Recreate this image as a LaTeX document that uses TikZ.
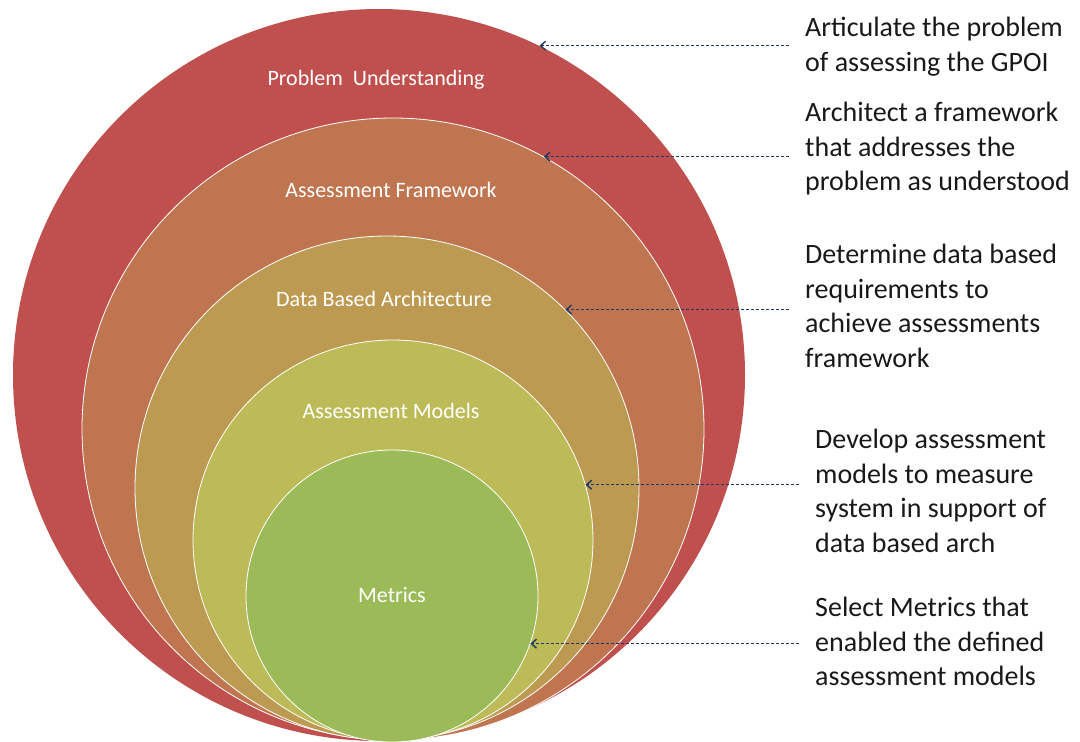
\documentclass[tikz,border=0pt]{standalone}
\usepackage{fontspec}
\setmainfont{Carlito}
\usetikzlibrary{positioning,arrows.meta}
\definecolor{ringred}{HTML}{C0504D}
\definecolor{ringorange}{HTML}{BF7650}
\definecolor{ringtan}{HTML}{BD9A52}
\definecolor{ringolive}{HTML}{BDBB58}
\definecolor{ringgreen}{HTML}{9BBB59}
\definecolor{arrownavy}{HTML}{1F3864}

\begin{document}
\begin{tikzpicture}[x=1pt, y=-1pt,
    ring/.style={circle, draw=white, line width=0.8pt, inner sep=0pt},
    lbl/.style={text=white, font=\fontsize{22}{26}\selectfont},
    note/.style={anchor=north west, align=left, inner sep=0pt, text=black!90,
        font=\fontsize{28}{34.5}\selectfont},
    pointer/.style={-{Straight Barb[length=5pt, width=9pt]}, dash pattern=on 3pt off 2pt,
        draw=arrownavy, line width=1.4pt, shorten <=16pt}]
    \useasboundingbox (0,0) rectangle (1080,742);

    % nested rings, all touching at the bottom
    \node[ring, draw=none, fill=ringred, minimum size=732pt] (pu) at (379,375) {};
    \node[ring, fill=ringorange, minimum size=622pt] (af) at (393,429) {};
    \node[ring, fill=ringtan, minimum size=504pt] (db) at (387,488) {};
    \node[ring, fill=ringolive, minimum size=400pt] (am) at (393,540) {};
    \node[ring, fill=ringgreen, minimum size=292pt] (me) at (392,596) {};

    \node[lbl] (pul) at (376,80) {Problem\ \ Understanding};
    \node[lbl] (afl) at (391,190) {Assessment Framework};
    \node[lbl] (dbl) at (384,299) {Data Based Architecture};
    \node[lbl] (aml) at (391,411) {Assessment Models};
    \node[lbl] (mel) at (392,595) {Metrics};

    % descriptions on the right
    \node[note] (n1) at (805,17) {Articulate the problem\\of assessing the GPOI};
    \node[note] (n2) at (805,102) {Architect a framework\\that addresses the\\problem as understood};
    \node[note] (n3) at (805,244) {Determine data based\\requirements to\\achieve assessments\\framework};
    \node[note] (n4) at (815,429) {Develop assessment\\models to measure\\system in support of\\data based arch};
    \node[note] (n5) at (815,597) {Select Metrics that\\enabled the defined\\assessment models};

    \draw[pointer] (n1.west |- pu.64) -- (pu.64);
    \draw[pointer] (n2.west |- af.61) -- (af.61);
    \draw[pointer] (n3.west |- db.45) -- (db.45);
    \draw[pointer] (n4.west |- am.16) -- (am.16);
    \draw[pointer] (n5.west |- me.-19) -- (me.-19);
\end{tikzpicture}
\end{document}
